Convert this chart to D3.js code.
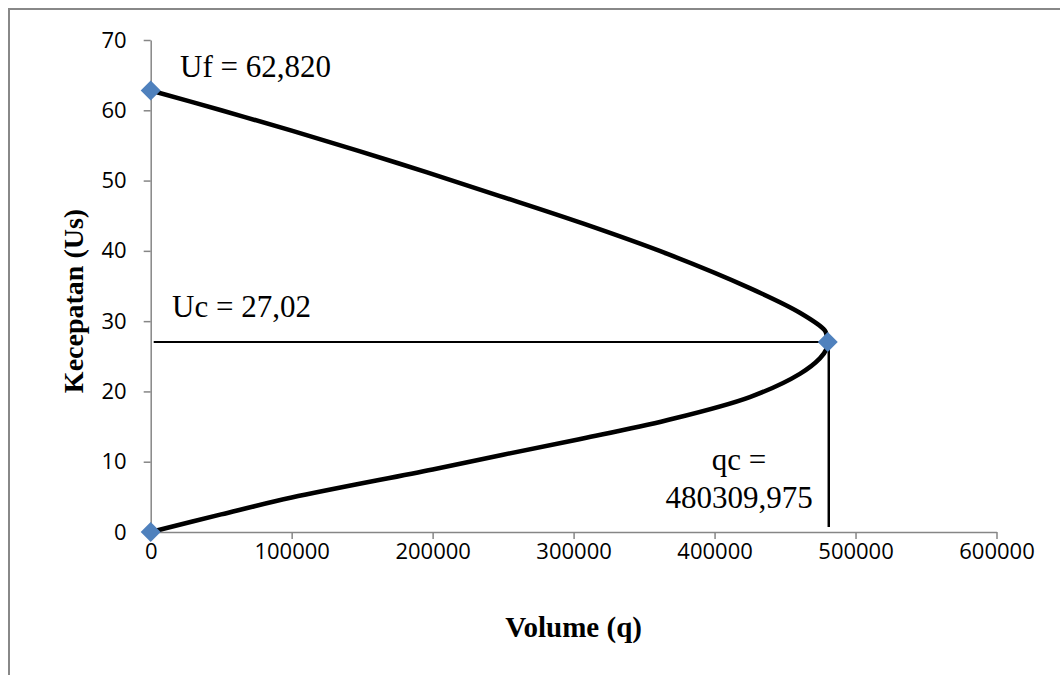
<!DOCTYPE html>
<html>
<head>
<meta charset="utf-8">
<script src="https://cdn.jsdelivr.net/npm/d3@7"></script>
<style>
  body { margin: 0; background: #fff; }
  svg { display: block; }
</style>
</head>
<body>
<div id="chart"></div>
<script>
// curve: volume q vs speed Us (lower branch, vertex, upper branch)
var curveQ = [0, 50000, 100000, 200000, 250000, 306500, 366100, 425000, 460500, 474700, 479300,
              480310, 479500, 478200, 460500, 425000, 366100, 306500, 247700, 175000, 100000, 50000, 0];
var curveU = [0, 2.5, 4.9, 8.9, 11.0, 13.3, 15.9, 19.2, 22.5, 24.7, 26.0,
              27.02, 28.0, 28.7, 31.2, 34.7, 39.6, 43.9, 47.8, 52.5, 57.1, 60.0, 62.82];

// the three marked points
var markQ = [0, 0, 480309.975];
var markU = [62.82, 0, 27.02];

var xTicks = [0, 100000, 200000, 300000, 400000, 500000, 600000];
var yTicks = [0, 10, 20, 30, 40, 50, 60, 70];

var W = 1060, H = 675;
var svg = d3.select("#chart").append("svg").attr("width", W).attr("height", H);

// outer frame
svg.append("path")
    .attr("d", "M9," + (H + 5) + " V9 H" + (W + 5))
    .attr("fill", "none").attr("stroke", "#888").attr("stroke-width", 2);

var x = d3.scaleLinear().domain([0, 600000]).range([150.7, 996.5]);
var y = d3.scaleLinear().domain([0, 70]).range([532, 40]);

var axisColor = "#868686";
var tickFont = "'Open Sans', sans-serif";

// y axis
var yAxis = svg.append("g")
    .attr("transform", "translate(" + x(0) + ",0)")
    .call(d3.axisLeft(y).tickValues(yTicks).tickSize(7).tickSizeOuter(0).tickPadding(17));
// x axis
var xAxis = svg.append("g")
    .attr("transform", "translate(0," + y(0) + ")")
    .call(d3.axisBottom(x).tickValues(xTicks).tickFormat(d3.format("d")).tickSize(7).tickSizeOuter(0).tickPadding(4));

[xAxis, yAxis].forEach(function (g) {
  g.select(".domain").attr("stroke", axisColor).attr("stroke-width", 1.5);
  g.selectAll(".tick line").attr("stroke", axisColor).attr("stroke-width", 1.5);
  g.selectAll(".tick text").attr("fill", "#000")
    .style("font-family", tickFont).style("font-size", "22px");
});

// Uc and qc guide lines
svg.append("line")
    .attr("x1", x(0) + 3).attr("x2", x(markQ[2]))
    .attr("y1", y(markU[2])).attr("y2", y(markU[2]))
    .attr("stroke", "#000").attr("stroke-width", 2);
svg.append("line")
    .attr("x1", x(markQ[2]) + 1).attr("x2", x(markQ[2]) + 1)
    .attr("y1", y(markU[2])).attr("y2", y(0) - 5)
    .attr("stroke", "#000").attr("stroke-width", 2.5);

// the curve
var pts = curveQ.map(function (q, i) { return [q, curveU[i]]; });
var line = d3.line()
    .x(function (d) { return x(d[0]); })
    .y(function (d) { return y(d[1]); })
    .curve(d3.curveCatmullRom.alpha(0.5));
svg.append("path")
    .attr("d", line(pts))
    .attr("fill", "none").attr("stroke", "#000").attr("stroke-width", 4.5);

// markers
svg.selectAll(".mark")
    .data(markQ.map(function (q, i) { return [q, markU[i]]; }))
    .enter().append("path")
    .attr("class", "mark")
    .attr("d", d3.symbol().type(d3.symbolSquare).size(200))
    .attr("transform", function (d) { return "translate(" + x(d[0]) + "," + y(d[1]) + ") rotate(45)"; })
    .attr("fill", "#4F81BD");

// annotations
var serif = "'Liberation Serif', 'Times New Roman', serif";
function note(t, px, py, anchor) {
  svg.append("text").attr("x", px).attr("y", py)
    .attr("text-anchor", anchor || "start")
    .style("font-family", serif).style("font-size", "31px")
    .text(t);
}
note("Uf = 62,820", 180, 77);
note("Uc = 27,02", 172, 317);
note("qc =", 739, 470, "middle");
note("480309,975", 739, 508, "middle");

// axis titles
svg.append("text")
    .attr("x", x(300000)).attr("y", 637)
    .attr("text-anchor", "middle")
    .style("font-family", serif).style("font-size", "29px").style("font-weight", "bold")
    .text("Volume (q)");
svg.append("text")
    .attr("transform", "translate(83,301) rotate(-90)")
    .attr("text-anchor", "middle")
    .style("font-family", serif).style("font-size", "28px").style("font-weight", "bold")
    .text("Kecepatan (Us)");
</script>
</body>
</html>
